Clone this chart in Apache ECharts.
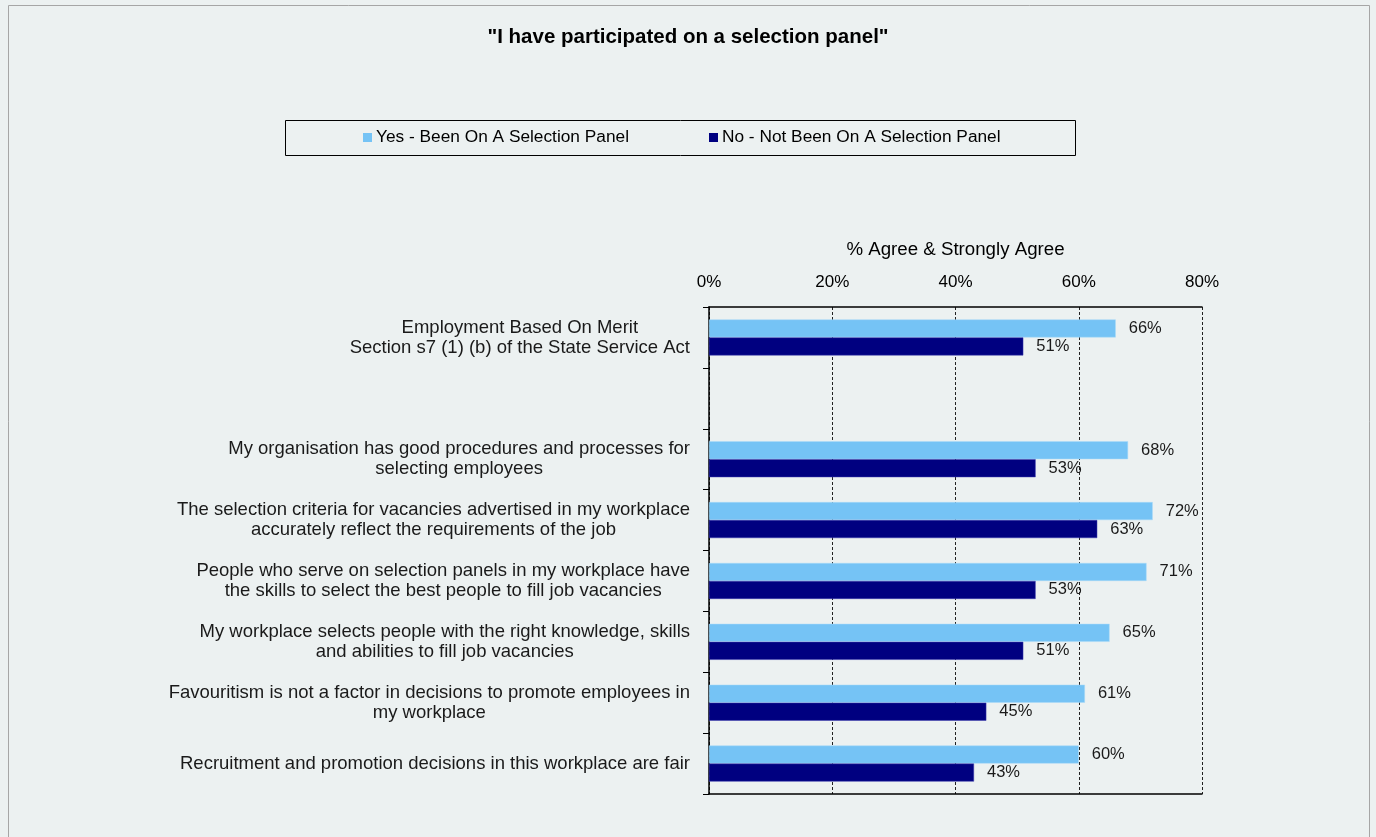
<!DOCTYPE html>
<html>
<head>
<meta charset="utf-8">
<script src="https://cdn.jsdelivr.net/npm/echarts@6/dist/echarts.min.js"></script>
<style>
  html, body { margin: 0; padding: 0; background: #ECF1F1; }
  #chart { width: 1376px; height: 837px; }
</style>
</head>
<body>
<div id="chart"></div>
<script>
// Survey statements (top to bottom); the blank entry is a spacer row
const categories = [
  'Employment Based On Merit\nSection s7 (1) (b) of the State Service Act',
  '',
  'My organisation has good procedures and processes for\nselecting employees',
  'The selection criteria for vacancies advertised in my workplace\naccurately reflect the requirements of the job',
  'People who serve on selection panels in my workplace have\nthe skills to select the best people to fill job vacancies',
  'My workplace selects people with the right knowledge, skills\nand abilities to fill job vacancies',
  'Favouritism is not a factor in decisions to promote employees in\nmy workplace',
  'Recruitment and promotion decisions in this workplace are fair'
];

// % Agree & Strongly Agree
const yesPanel = [66, null, 68, 72, 71, 65, 61, 60];
const noPanel  = [51, null, 53, 63, 53, 51, 45, 43];

const seriesNames = ['Yes - Been On A Selection Panel', 'No - Not Been On A Selection Panel'];
const tickValues = [0, 20, 40, 60, 80];

const FONT = '"Liberation Sans", Arial, sans-serif';

const chart = echarts.init(document.getElementById('chart'), null, { renderer: 'canvas' });

const labelStyle = {
  show: true,
  position: 'right',
  distance: 13,
  fontFamily: FONT,
  fontSize: 16.5,
  color: '#1a1a1a',
  formatter: p => p.value + '%'
};

chart.setOption({
  backgroundColor: '#ECF1F1',
  animation: false,
  title: {
    text: '"I have participated on a selection panel"',
    left: 'center',
    top: 22,
    textStyle: { fontFamily: FONT, fontSize: 20.5, fontWeight: 'bold', color: '#000' }
  },
  graphic: [
    {
      type: 'rect',
      shape: { x: 8.5, y: 5.5, width: 1361, height: 850 },
      style: { fill: 'none', stroke: '#A6A6A6', lineWidth: 1 },
      silent: true
    },
    {
      type: 'rect',
      shape: { x: 285.5, y: 120.5, width: 790, height: 35 },
      style: { fill: 'none', stroke: '#000', lineWidth: 1 },
      silent: true
    }
  ],
  legend: {
    data: seriesNames,
    left: 363,
    top: 129,
    padding: 0,
    itemWidth: 9,
    itemHeight: 9,
    itemGap: 80,
    icon: 'rect',
    itemStyle: { borderWidth: 0 },
    textStyle: { fontFamily: FONT, fontSize: 17.3, color: '#000', padding: [0, 0, 0, -1] }
  },
  grid: { left: 709, right: 174, top: 307, bottom: 43, containLabel: false },
  xAxis: [
    {
      type: 'value',
      position: 'top',
      min: tickValues[0],
      max: tickValues[tickValues.length - 1],
      interval: 20,
      name: '% Agree & Strongly Agree',
      nameLocation: 'middle',
      nameGap: 48,
      nameTextStyle: { fontFamily: FONT, fontSize: 18.7, color: '#000' },
      axisLine: { show: true, lineStyle: { color: '#000', width: 1.5 } },
      axisTick: { show: false },
      axisLabel: {
        margin: 16,
        fontFamily: FONT,
        fontSize: 17,
        color: '#000',
        formatter: v => v + '%'
      },
      splitLine: { show: true, lineStyle: { color: '#222', width: 1, type: [3, 2] } }
    },
    {
      type: 'value',
      position: 'bottom',
      min: tickValues[0],
      max: tickValues[tickValues.length - 1],
      interval: 20,
      axisLine: { show: true, lineStyle: { color: '#000', width: 1.5 } },
      axisTick: { show: false },
      axisLabel: { show: false },
      splitLine: { show: false }
    }
  ],
  yAxis: {
    type: 'category',
    inverse: true,
    data: categories,
    axisLine: { show: true, lineStyle: { color: '#000', width: 1.5 } },
    axisTick: { show: true, length: 6, lineStyle: { color: '#000' } },
    axisLabel: {
      margin: 19,
      fontFamily: FONT,
      fontSize: 18.5,
      color: '#1a1a1a',
      lineHeight: 20,
      align: 'right',
      formatter: v => v ? v.split('\n').map(l => '{c|' + l + '}').join('\n') : '',
      rich: { c: { align: 'center', fontFamily: FONT, fontSize: 18.5, lineHeight: 20, color: '#1a1a1a' } }
    }
  },
  series: [
    {
      name: seriesNames[0],
      type: 'bar',
      data: yesPanel,
      barWidth: 18,
      barGap: '0%',
      itemStyle: { color: '#75C3F5', borderColor: '#A9DAF8', borderWidth: 0.5 },
      label: labelStyle
    },
    {
      name: seriesNames[1],
      type: 'bar',
      data: noPanel,
      barWidth: 18,
      barGap: '0%',
      itemStyle: { color: '#000080', borderColor: '#3A3AB0', borderWidth: 0.5 },
      label: labelStyle
    }
  ]
});
</script>
</body>
</html>
